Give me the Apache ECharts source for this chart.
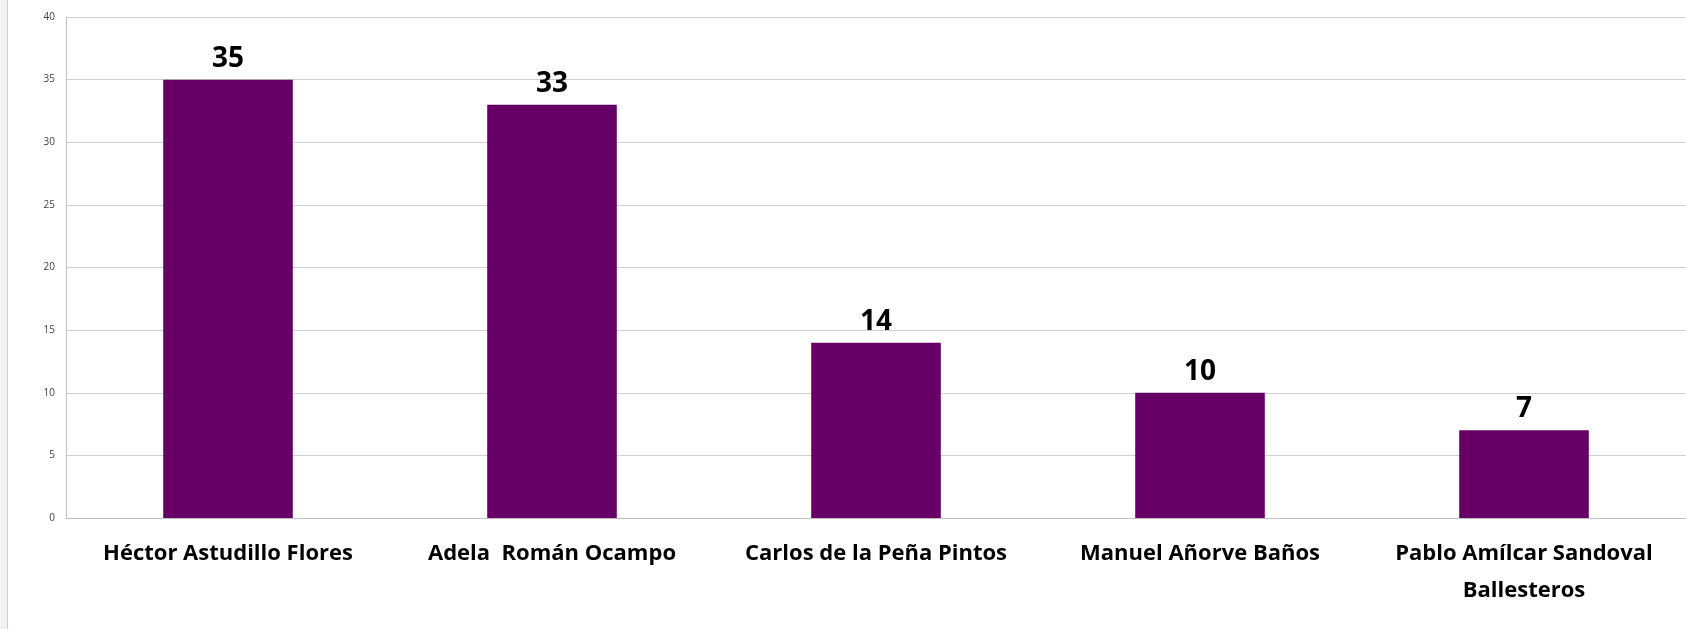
<!DOCTYPE html>
<html>
<head>
<meta charset="utf-8">
<style>
  html, body { margin: 0; padding: 0; background: #f2f2f2; overflow: hidden; }
  #frame {
    position: absolute; left: 7px; top: -12px; width: 1700px; height: 645px;
    border: 1px solid #cfcfcf; border-radius: 8px; background: #fff;
  }
  #main { position: absolute; left: 0; top: 0; width: 1686px; height: 629px; }
</style>
<script src="https://cdn.jsdelivr.net/npm/echarts@6/dist/echarts.min.js"></script>
</head>
<body>
<div id="frame"></div>
<div id="main"></div>
<script>
const candidatos = ['Héctor Astudillo Flores', 'Adela  Román Ocampo', 'Carlos de la Peña Pintos', 'Manuel Añorve Baños', 'Pablo Amílcar Sandoval\nBallesteros'];
const valores = [35, 33, 14, 10, 7];

let myChart = echarts.init(document.getElementById('main'));
let option = {
  animation: false,
  grid: {
    left: 66,
    top: 17,
    width: 1625,
    height: 501,
  },
  xAxis: {
    type: 'category',
    data: candidatos,
    axisLine: { lineStyle: { color: '#bfbfbf', width: 1 } },
    axisTick: { show: false },
    axisLabel: {
      interval: 0,
      margin: 17,
      color: '#000',
      fontFamily: 'Open Sans',
      fontWeight: 'bold',
      fontSize: 22,
      lineHeight: 37,
    },
  },
  yAxis: {
    type: 'value',
    min: 0,
    max: 40,
    interval: 5,
    axisLine: { show: true, lineStyle: { color: '#bfbfbf', width: 1 } },
    axisTick: { show: false },
    splitLine: { lineStyle: { color: '#cfcfcf', width: 1 } },
    axisLabel: {
      margin: 11,
      color: '#404040',
      fontFamily: 'Open Sans',
      fontSize: 10,
    },
  },
  series: [
    {
      type: 'bar',
      data: valores,
      barWidth: '40%',
      itemStyle: { color: '#660066' },
      label: {
        show: true,
        position: 'top',
        distance: 7,
        color: '#000',
        fontFamily: 'Open Sans',
        fontWeight: 'bold',
        fontSize: 28,
      },
    },
  ],
};
myChart.setOption(option);
</script>
</body>
</html>
